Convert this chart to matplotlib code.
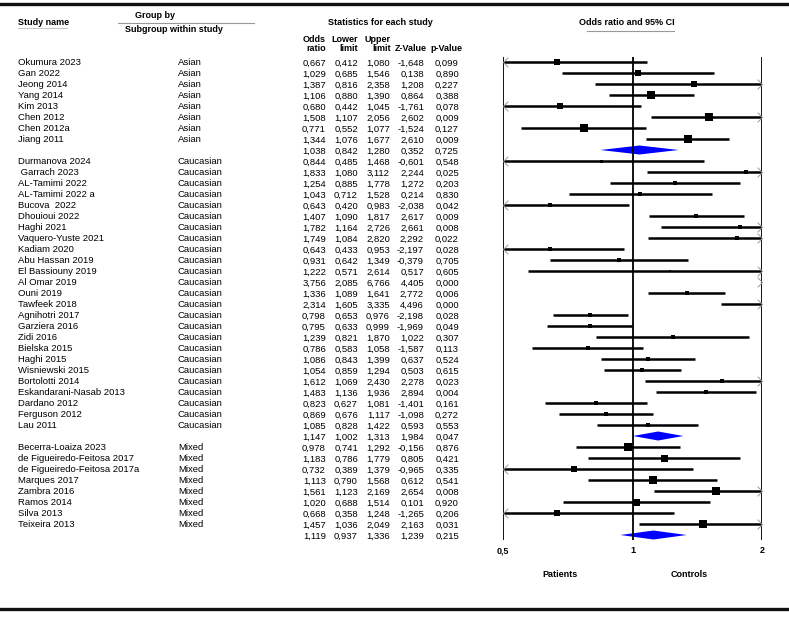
import numpy as np
import matplotlib
matplotlib.use('Agg')
import matplotlib.pyplot as plt
from matplotlib.path import Path

plt.rcParams['font.family'] = ['Liberation Sans', 'DejaVu Sans']

# ── Dados ─────────────────────────────────────────────────────
studies = [
    'Okumura 2023', 'Gan 2022', 'Jeong 2014', 'Yang 2014', 'Kim 2013',
    'Chen 2012', 'Chen 2012a', 'Jiang 2011',
    'Durmanova 2024', ' Garrach 2023', 'AL-Tamimi 2022', 'AL-Tamimi 2022 a',
    'Bucova  2022', 'Dhouioui 2022', 'Haghi 2021', 'Vaquero-Yuste 2021',
    'Kadiam 2020', 'Abu Hassan 2019', 'El Bassiouny 2019', 'Al Omar 2019',
    'Ouni 2019', 'Tawfeek 2018', 'Agnihotri 2017', 'Garziera 2016',
    'Zidi 2016', 'Bielska 2015', 'Haghi 2015', 'Wisniewski 2015',
    'Bortolotti 2014', 'Eskandarani-Nasab 2013', 'Dardano 2012',
    'Ferguson 2012', 'Lau 2011',
    'Becerra-Loaiza 2023', 'de Figueiredo-Feitosa 2017',
    'de Figueiredo-Feitosa 2017a', 'Marques 2017', 'Zambra 2016',
    'Ramos 2014', 'Silva 2013', 'Teixeira 2013',
]
subgroup = ['Asian'] * 8 + ['Caucasian'] * 25 + ['Mixed'] * 8

odds = [0.667, 1.029, 1.387, 1.106, 0.680, 1.508, 0.771, 1.344,
        0.844, 1.833, 1.254, 1.043, 0.643, 1.407, 1.782, 1.749, 0.643,
        0.931, 1.222, 3.756, 1.336, 2.314, 0.798, 0.795, 1.239, 0.786,
        1.086, 1.054, 1.612, 1.483, 0.823, 0.869, 1.085,
        0.978, 1.183, 0.732, 1.113, 1.561, 1.020, 0.668, 1.457]
lower = [0.412, 0.685, 0.816, 0.880, 0.442, 1.107, 0.552, 1.076,
         0.485, 1.080, 0.885, 0.712, 0.420, 1.090, 1.164, 1.084, 0.433,
         0.642, 0.571, 2.085, 1.089, 1.605, 0.653, 0.633, 0.821, 0.583,
         0.843, 0.859, 1.069, 1.136, 0.627, 0.676, 0.828,
         0.741, 0.786, 0.389, 0.790, 1.123, 0.688, 0.358, 1.036]
upper = [1.080, 1.546, 2.358, 1.390, 1.045, 2.056, 1.077, 1.677,
         1.468, 3.112, 1.778, 1.528, 0.983, 1.817, 2.726, 2.820, 0.953,
         1.349, 2.614, 6.766, 1.641, 3.335, 0.976, 0.999, 1.870, 1.058,
         1.399, 1.294, 2.430, 1.936, 1.081, 1.117, 1.422,
         1.292, 1.779, 1.379, 1.568, 2.169, 1.514, 1.248, 2.049]
z_val = [-1.648, 0.138, 1.208, 0.864, -1.761, 2.602, -1.524, 2.610,
         -0.601, 2.244, 1.272, 0.214, -2.038, 2.617, 2.661, 2.292, -2.197,
         -0.379, 0.517, 4.405, 2.772, 4.496, -2.198, -1.969, 1.022, -1.587,
         0.637, 0.503, 2.278, 2.894, -1.401, -1.098, 0.593,
         -0.156, 0.805, -0.965, 0.612, 2.654, 0.101, -1.265, 2.163]
p_val = [0.099, 0.890, 0.227, 0.388, 0.078, 0.009, 0.127, 0.009,
         0.548, 0.025, 0.203, 0.830, 0.042, 0.009, 0.008, 0.022, 0.028,
         0.705, 0.605, 0.000, 0.006, 0.000, 0.028, 0.049, 0.307, 0.113,
         0.524, 0.615, 0.023, 0.004, 0.161, 0.272, 0.553,
         0.876, 0.421, 0.335, 0.541, 0.008, 0.920, 0.206, 0.031]
# peso relativo (lado do quadrado, px)
peso = [6.5, 6.5, 6.5, 8, 6.5, 7.5, 7.5, 8,
        3, 3.5, 4, 4, 4, 4.5, 4, 3.5, 4, 4.5, 2, 5, 5, 5, 5, 5, 4, 5,
        4.5, 4.5, 4.5, 4.5, 4.5, 4.5, 4.5,
        8.5, 7, 5.5, 8, 8, 7, 5.5, 8]

groups = ['Asian', 'Caucasian', 'Mixed']
sum_odds = [1.038, 1.147, 1.119]
sum_lower = [0.842, 1.002, 0.937]
sum_upper = [1.280, 1.313, 1.336]
sum_z = [0.352, 1.984, 1.239]
sum_p = [0.725, 0.047, 0.215]

X_MIN, X_MAX = 0.5, 2.0


def fmt(v):
    return f'{v:.3f}'.replace('.', ',')


# ── Figura: eixo de fundo em pixels + eixo do forest plot ─────
W, H = 789, 621
fig = plt.figure(figsize=(W / 100, H / 100), dpi=100)
bg = fig.add_axes([0, 0, 1, 1])
bg.set_xlim(0, W)
bg.set_ylim(H, 0)
bg.axis('off')

ax = fig.add_axes([503 / W, 0, (762 - 503) / W, 1])
ax.set_xscale('log')
ax.set_xlim(X_MIN, X_MAX)
ax.set_ylim(H, 0)
ax.axis('off')

FS = 6.8
HFS = 6.5
BL = 3.4  # deslocamento da linha de base (px) em relação ao centro da linha


def txt(x, y, s, ha='left', bold=False, size=FS, axis=None):
    (axis or bg).text(x, y + BL, s, fontsize=size, ha=ha, va='baseline',
                      fontweight='bold' if bold else 'normal')


# linhas horizontais grossas
bg.plot([0, W], [4, 4], color='#111111', lw=2.4)
bg.plot([0, W], [609, 609], color='#111111', lw=2.4)

# cabeçalhos
txt(18, 22, 'Study name', bold=True, size=HFS)
bg.plot([18, 67], [27.5, 27.5], color='#bbbbbb', lw=0.6)
txt(155, 15, 'Group by', ha='center', bold=True, size=HFS)
bg.plot([118, 254], [23, 23], color='#999999', lw=0.8)
txt(125, 29, 'Subgroup within study', bold=True, size=HFS)
txt(380, 22, 'Statistics for each study', ha='center', bold=True, size=HFS)
col_x = [326, 358, 391, 427, 462]
for x, t1, t2 in zip(col_x, ['Odds', 'Lower', 'Upper', '', ''],
                     ['ratio', 'limit', 'limit', 'Z-Value', 'p-Value']):
    txt(x, 39, t1, ha='right', bold=True, size=HFS)
    txt(x, 48, t2, ha='right', bold=True, size=HFS)
txt(627, 22, 'Odds ratio and 95% CI', ha='center', bold=True, size=HFS)
bg.plot([587, 674], [31, 31], color='#999999', lw=0.8)

# eixos verticais
Y0, DY = 62, 11
n_rows = len(studies) + len(groups)
y_top, y_bot = Y0 - 5, Y0 + DY * (n_rows - 1) + 5
ax.vlines([X_MIN, 1.0, X_MAX], y_top, y_bot, color='black', lw=1.3)
for v, lab in zip([X_MIN, 1.0, X_MAX], ['0,5', '1', '2']):
    txt(v, 550, lab, ha='center', bold=True, size=HFS, axis=ax)
txt(560, 574, 'Patients', ha='center', bold=True, size=HFS)
txt(689, 574, 'Controls', ha='center', bold=True, size=HFS)

left_arrow = Path([(1, 1), (0, 0), (1, -1)], [Path.MOVETO, Path.LINETO, Path.LINETO])
right_arrow = Path([(-1, 1), (0, 0), (-1, -1)], [Path.MOVETO, Path.LINETO, Path.LINETO])
col_rx = [326, 358, 390, 424, 459]


def linha_numeros(y, vals):
    for x, v in zip(col_rx, vals):
        txt(x, y, fmt(v), ha='right')


row = 0
for g, grp in enumerate(groups):
    idx = [i for i, s in enumerate(subgroup) if s == grp]
    for i in idx:
        y = Y0 + DY * row
        txt(18, y, studies[i])
        txt(178, y, subgroup[i])
        linha_numeros(y, [odds[i], lower[i], upper[i], z_val[i], p_val[i]])

        lo = max(lower[i], X_MIN)
        hi = min(upper[i], X_MAX)
        if lo < hi:
            ax.plot([lo, hi], [y, y], color='black', lw=1.8, solid_capstyle='butt')
        if lower[i] < X_MIN:
            ax.plot([X_MIN], [y], marker=left_arrow, ms=7, mfc='none',
                    mec='#9a9a9a', mew=0.7, clip_on=False)
        if upper[i] > X_MAX:
            ax.plot([X_MAX], [y], marker=right_arrow, ms=7, mfc='none',
                    mec='#9a9a9a', mew=0.7, clip_on=False)
        if X_MIN <= odds[i] <= X_MAX:
            ax.plot([odds[i]], [y], marker='s', ms=peso[i] * 0.72,
                    color='black', mew=0)
        row += 1

    # resumo do subgrupo
    y = Y0 + DY * row
    linha_numeros(y, [sum_odds[g], sum_lower[g], sum_upper[g], sum_z[g], sum_p[g]])
    h = 4.5
    ax.fill([sum_lower[g], sum_odds[g], sum_upper[g], sum_odds[g]],
            [y, y - h, y, y + h], color='#0000ff', lw=0)
    row += 1

fig.savefig('out.png', dpi=100)
